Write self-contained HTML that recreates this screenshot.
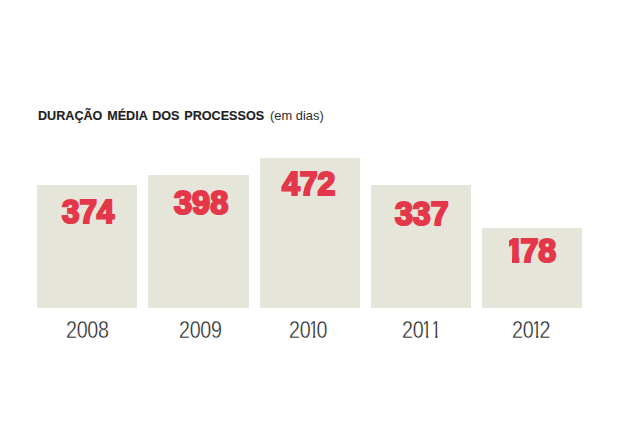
<!DOCTYPE html>
<html lang="pt">
<head>
<meta charset="utf-8">
<title>Duração média dos processos</title>
<style>
html,body{margin:0;padding:0;background:#fff;}
body{width:620px;height:445px;position:relative;overflow:hidden;font-family:"Liberation Sans",sans-serif;}
.bar{position:absolute;background:#e5e5da;}
.t{position:absolute;white-space:nowrap;line-height:1;transform-origin:0 0;display:inline-block;}
.title{left:37.9px;top:110px;font-size:12.5px;font-weight:bold;color:#1f1f1f;word-spacing:1.3px;transform:scaleX(1.008);-webkit-text-stroke:0.15px #1f1f1f;}
.sub{left:269.7px;top:109px;font-size:13.4px;color:#2e2e2e;transform:scaleX(0.962);}
.num{font-weight:bold;font-size:33px;color:#e4384a;-webkit-text-stroke:2.2px #e4384a;}
.num .one{display:inline-block;margin:0 -3.4px 0 -3.3px;clip-path:polygon(3.3px -5px,14px -5px,14px 40px,6.4px 40px,6.4px 22.9px,3.3px 22.9px);}
.yr{font-size:24.0px;color:#222;top:318.4px;letter-spacing:-0.4px;-webkit-text-stroke:0.4px #fff;transform:scaleX(0.821);}
.yr .one{display:inline-block;margin:0 -2.83px 0 -2.46px;clip-path:polygon(3.5px -5px,8.59px -5px,8.59px 30px,5.76px 30px,5.76px 17.6px,3.5px 17.6px);}
.yr .one.b{margin-left:1.1px;}
</style>
</head>
<body>
<div class="bar" style="left:36.8px;top:185.2px;width:100.4px;height:122.5px;"></div>
<div class="bar" style="left:148.3px;top:175.2px;width:100.5px;height:132.5px;"></div>
<div class="bar" style="left:259.6px;top:158.2px;width:100.4px;height:149.5px;"></div>
<div class="bar" style="left:371.0px;top:185.2px;width:99.8px;height:122.5px;"></div>
<div class="bar" style="left:481.7px;top:228.2px;width:100.3px;height:79.5px;"></div>

<span class="t title" id="title">DURAÇÃO MÉDIA DOS PROCESSOS</span>
<span class="t sub" id="sub">(em dias)</span>

<span class="t num" id="n1" style="left:62px;top:195.1px;transform:scaleX(0.95);">374</span>
<span class="t num" id="n2" style="left:174.4px;top:185.6px;transform:scaleX(0.985);">398</span>
<span class="t num" id="n3" style="left:282.4px;top:167.1px;transform:scaleX(0.97);">472</span>
<span class="t num" id="n4" style="left:395.3px;top:196.7px;transform:scaleX(0.972);">337</span>
<span class="t num" id="n5" style="left:509.4px;top:233.9px;transform:scaleX(0.975);"><span class="one">1</span>78</span>

<span class="t yr" id="y1" style="left:66px;">2008</span>
<span class="t yr" id="y2" style="left:179.2px;">2009</span>
<span class="t yr" id="y3" style="left:289.2px;">20<span class="one">1</span>0</span>
<span class="t yr" id="y4" style="left:402.4px;">20<span class="one">1</span><span class="one b">1</span></span>
<span class="t yr" id="y5" style="left:512.2px;">20<span class="one">1</span>2</span>
</body>
</html>
